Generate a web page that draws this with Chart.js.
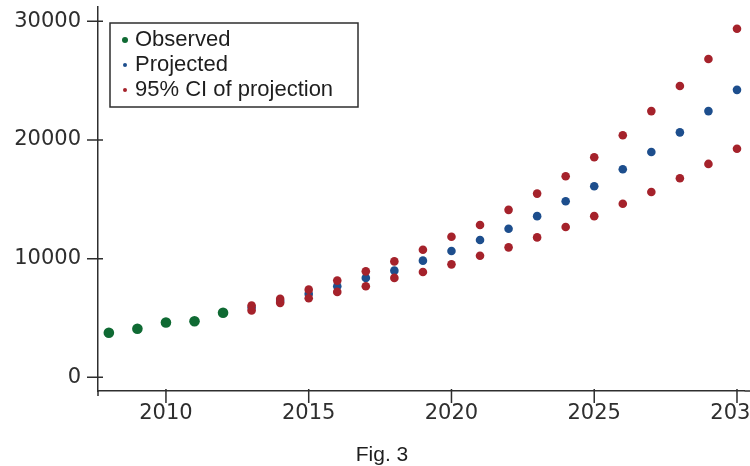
<!DOCTYPE html>
<html>
<head>
<meta charset="utf-8">
<script src="https://cdn.jsdelivr.net/npm/chart.js@4.4.1/dist/chart.umd.min.js"></script>
<style>
    html, body { margin: 0; padding: 0; background: #fff; overflow: hidden; }
</style>
</head>
<body>
<canvas id="projection-chart" width="750" height="466"></canvas>
<script>
const observedYears = [2008, 2009, 2010, 2011, 2012];
const observedValues = [3760, 4090, 4620, 4730, 5440];

const projectedYears = [2013, 2014, 2015, 2016, 2017, 2018, 2019, 2020, 2021,
    2022, 2023, 2024, 2025, 2026, 2027, 2028, 2029, 2030];
const projectedValues = [5860, 6430, 7030, 7670, 8380, 8990, 9830, 10640, 11570,
    12520, 13580, 14840, 16100, 17530, 18980, 20640, 22430, 24220];
const upperCI = [6050, 6610, 7390, 8150, 8930, 9770, 10750, 11840, 12830,
    14110, 15480, 16940, 18540, 20390, 22430, 24550, 26820, 29370];
const lowerCI = [5630, 6275, 6660, 7200, 7670, 8380, 8870, 9520, 10250,
    10950, 11790, 12660, 13580, 14620, 15620, 16770, 17980, 19260];

const yTicks = [0, 10000, 20000, 30000];
const xTicks = [2010, 2015, 2020, 2025, 2030];
const legendLabels = ["Observed", "Projected", "95% CI of projection"];
const caption = "Fig. 3";

const green = "#0f6a33";
const blue = "#1d4e8d";
const red = "#a5222b";
const axisColor = "#2e2e2e";
const textColor = "#1e1e1e";

const toPoints = (xs, ys) => xs.map((x, i) => ({ x: x, y: ys[i] }));

// axis ticks cross the axis line, and the legend has a frame, so both are drawn here
const axisDecor = {
    id: "axisDecor",
    afterDraw(chart) {
        const { ctx, chartArea, scales } = chart;
        const x = scales.x;
        const y = scales.y;
        ctx.save();
        ctx.strokeStyle = axisColor;
        ctx.lineWidth = 1.5;
        ctx.beginPath();
        ctx.moveTo(chartArea.left, chartArea.bottom);
        ctx.lineTo(chartArea.left, chartArea.bottom + 5);
        ctx.moveTo(chartArea.right, chartArea.bottom);
        ctx.lineTo(750, chartArea.bottom);
        yTicks.forEach((v) => {
            const py = y.getPixelForValue(v);
            ctx.moveTo(chartArea.left - 11, py);
            ctx.lineTo(chartArea.left + 5, py);
        });
        xTicks.forEach((v) => {
            const px = x.getPixelForValue(v);
            ctx.moveTo(px, chartArea.bottom - 2);
            ctx.lineTo(px, chartArea.bottom + 12);
        });
        ctx.stroke();

        // legend
        const colors = [green, blue, red];
        const radii = [3, 2, 2];
        const boxLeft = chartArea.left + 12;
        const boxTop = 23;
        ctx.lineWidth = 1.5;
        ctx.strokeRect(boxLeft, boxTop, 248, 84);
        ctx.font = "22px 'Liberation Sans', Arial, sans-serif";
        ctx.textBaseline = "middle";
        ctx.textAlign = "left";
        legendLabels.forEach((label, i) => {
            const cy = boxTop + 17 + i * 25;
            ctx.fillStyle = colors[i];
            ctx.beginPath();
            ctx.arc(boxLeft + 15, cy, radii[i], 0, Math.PI * 2);
            ctx.fill();
            ctx.fillStyle = textColor;
            ctx.fillText(label, boxLeft + 25, cy);
        });
        ctx.restore();
    },
};

const tickFont = { family: "'DejaVu Sans', sans-serif", size: 21 };

new Chart(document.getElementById("projection-chart"), {
    type: "scatter",
    data: {
        datasets: [
            {
                label: "95% CI upper",
                data: toPoints(projectedYears, upperCI),
                backgroundColor: red,
                pointRadius: 4.3,
                order: 0,
            },
            {
                label: "95% CI lower",
                data: toPoints(projectedYears, lowerCI),
                backgroundColor: red,
                pointRadius: 4.3,
                order: 0,
            },
            {
                label: "Projected",
                data: toPoints(projectedYears, projectedValues),
                backgroundColor: blue,
                pointRadius: 4.3,
                order: 1,
            },
            {
                label: "Observed",
                data: toPoints(observedYears, observedValues),
                backgroundColor: green,
                pointRadius: 5.3,
                order: 2,
            },
        ],
    },
    options: {
        responsive: false,
        animation: false,
        elements: {
            point: { borderWidth: 0, hoverRadius: 5, hitRadius: 4 },
        },
        layout: {
            padding: { left: 14, top: 7, right: 0, bottom: 0 },
        },
        scales: {
            x: {
                type: "linear",
                min: 2007.62,
                max: 2030.27,
                afterBuildTicks: (scale) => {
                    scale.ticks = xTicks.map((v) => ({ value: v }));
                },
                afterFit: (scale) => {
                    scale.height = 33;
                    scale.paddingLeft = 0;
                    scale.paddingRight = 0;
                },
                ticks: {
                    callback: (value) => String(value),
                    padding: 10,
                    maxRotation: 0,
                    autoSkip: false,
                    color: axisColor,
                    font: tickFont,
                },
                grid: { drawOnChartArea: false, drawTicks: false },
                border: { color: axisColor, width: 1.5 },
            },
            y: {
                min: -1150,
                max: 31200,
                afterBuildTicks: (scale) => {
                    scale.ticks = yTicks.map((v) => ({ value: v }));
                },
                afterFit: (scale) => {
                    scale.width = 84;
                    scale.paddingTop = 0;
                    scale.paddingBottom = 0;
                },
                ticks: {
                    callback: (value) => String(value),
                    padding: 17,
                    color: axisColor,
                    font: tickFont,
                },
                grid: { drawOnChartArea: false, drawTicks: false },
                border: { color: axisColor, width: 1.5 },
            },
        },
        plugins: {
            legend: { display: false },
            tooltip: { enabled: false },
            title: {
                display: true,
                text: caption,
                position: "bottom",
                color: textColor,
                font: { family: "'Liberation Sans', Arial, sans-serif", size: 21, weight: "normal", lineHeight: 1 },
                padding: { top: 21, bottom: 0 },
            },
        },
    },
    plugins: [axisDecor],
});
</script>
</body>
</html>
